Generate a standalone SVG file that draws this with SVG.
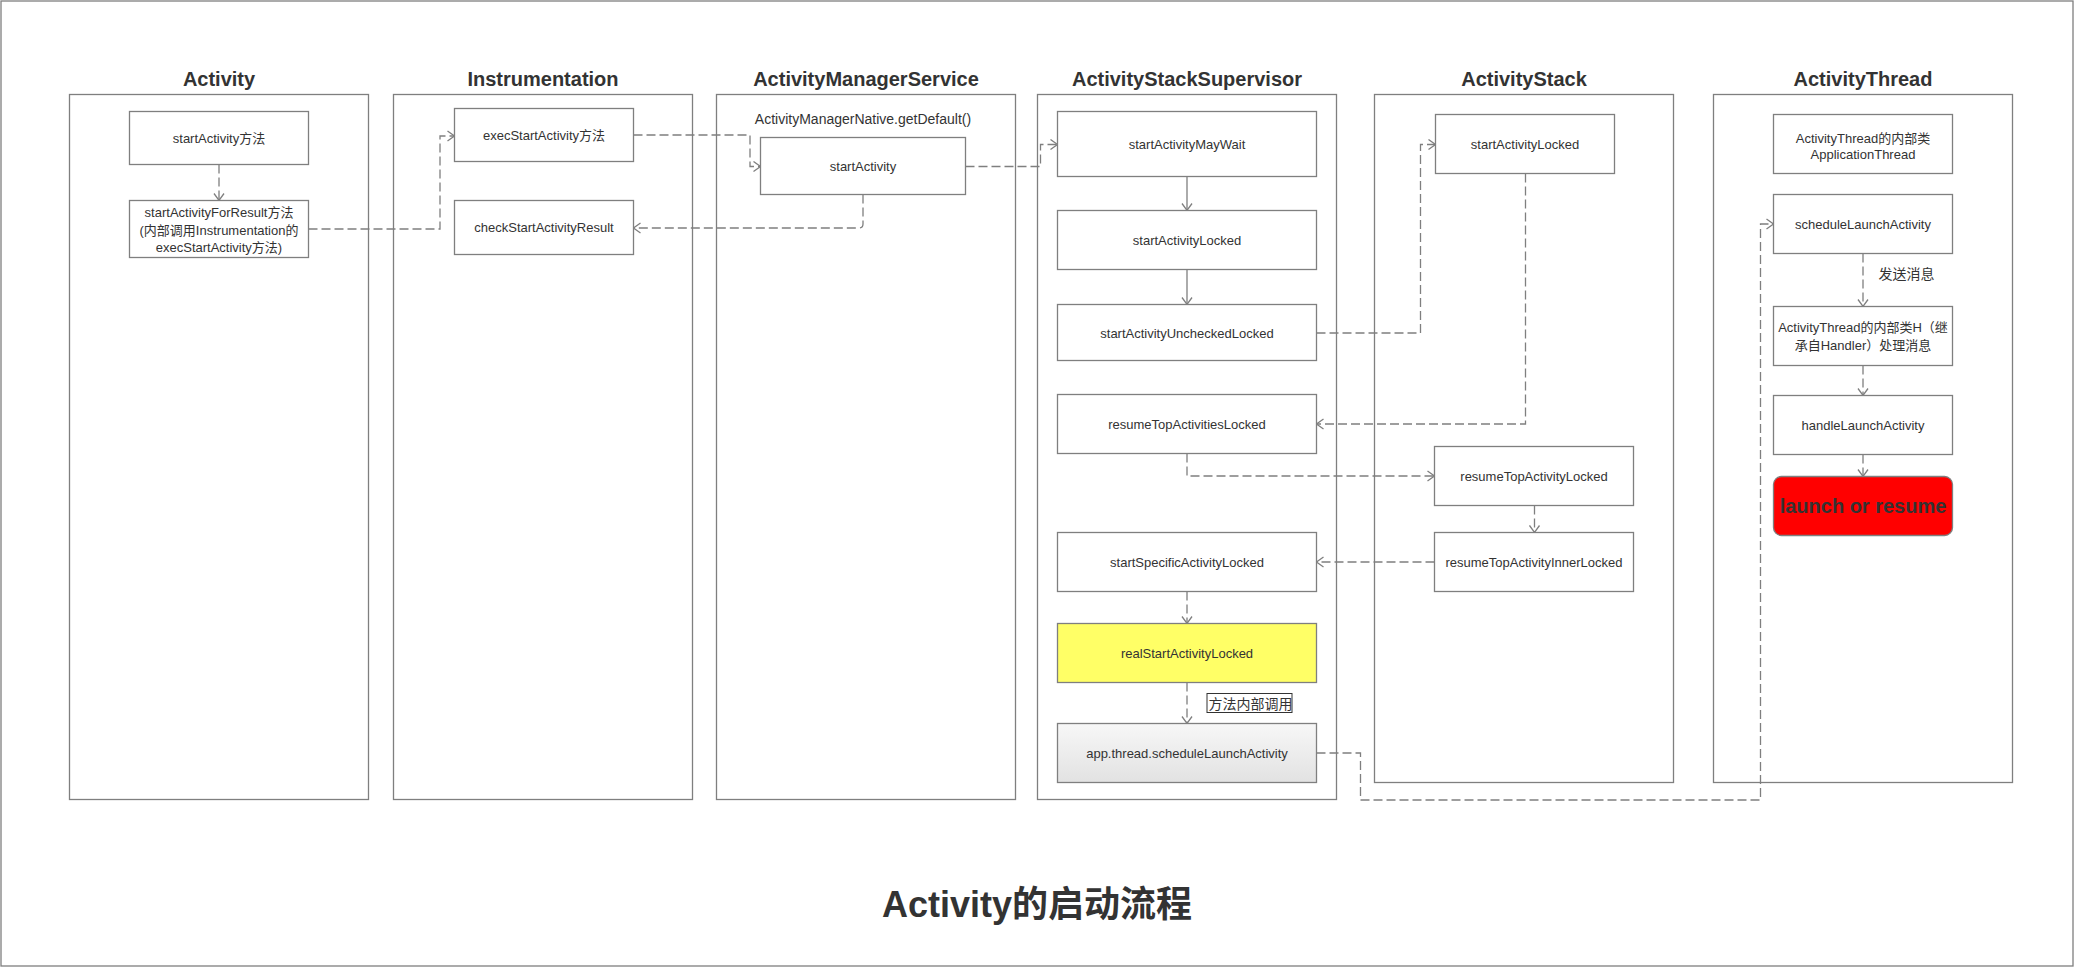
<svg xmlns="http://www.w3.org/2000/svg" width="2074" height="967" viewBox="0 0 2074 967">
<style>
text{font-family:"Liberation Sans","Noto Sans CJK SC",sans-serif;fill:#333}
.lane{fill:#fff;stroke:#7f7f7f;stroke-width:1.3}
.ttl{font-size:20px;font-weight:bold;text-anchor:middle}
.n{fill:#fff;stroke:#7f7f7f;stroke-width:1.3}
.t{font-size:13px;text-anchor:middle}
.c{fill:none;stroke:#7f7f7f;stroke-width:1.3;stroke-dasharray:9,4;marker-end:url(#ah)}
.s{fill:none;stroke:#7f7f7f;stroke-width:1.3;marker-end:url(#ah)}
</style>
<defs>
<marker id="ah" markerUnits="userSpaceOnUse" markerWidth="12" markerHeight="12" viewBox="-9 -6 10 12" refX="0" refY="0" orient="auto">
<path d="M-7,-5 L0,0 L-7,5" fill="none" stroke="#7f7f7f" stroke-width="1.3"/>
</marker>
<linearGradient id="gg" x1="0" y1="0" x2="0" y2="1">
<stop offset="0" stop-color="#f7f7f7"/>
<stop offset="1" stop-color="#e2e2e2"/>
</linearGradient>
</defs>
<rect x="0" y="0" width="2074" height="967" fill="#fff"/>
<rect x="1" y="1" width="2072" height="965" fill="none" stroke="#7f7f7f" stroke-width="1.3"/>
<g id="lanes">
<g id="lane-activity"><rect class="lane" x="69.5" y="94.5" width="299" height="705"/><text class="ttl" x="219" y="86">Activity</text></g>
<g id="lane-instrumentation"><rect class="lane" x="393.5" y="94.5" width="299" height="705"/><text class="ttl" x="543" y="86">Instrumentation</text></g>
<g id="lane-ams"><rect class="lane" x="716.5" y="94.5" width="299" height="705"/><text class="ttl" x="866" y="86">ActivityManagerService</text></g>
<g id="lane-ass"><rect class="lane" x="1037.5" y="94.5" width="299" height="705"/><text class="ttl" x="1187" y="86">ActivityStackSupervisor</text></g>
<g id="lane-as"><rect class="lane" x="1374.5" y="94.5" width="299" height="688"/><text class="ttl" x="1524" y="86">ActivityStack</text></g>
<g id="lane-at"><rect class="lane" x="1713.5" y="94.5" width="299" height="688"/><text class="ttl" x="1863" y="86">ActivityThread</text></g>
</g>
<g id="connectors">
<path class="c" d="M219,164.5 V200.5"/>
<path class="c" d="M308.5,229 H440 V136 H454.5"/>
<path class="c" d="M633.5,135 H750 V166.5 H760.5"/>
<path class="c" d="M863,194.5 V224 Q863,228 859,228 H633.5"/>
<path class="c" d="M965.5,166.5 H1040.5 V144.5 H1057.5"/>
<path class="s" d="M1187,176.5 V210.5"/>
<path class="s" d="M1187,269.5 V304.5"/>
<path class="c" d="M1316.5,333 H1420.5 V144.5 H1435.5"/>
<path class="c" d="M1525.5,173.5 V424 H1316.5"/>
<path class="c" d="M1187,453.5 V476 H1434.5"/>
<path class="c" d="M1534.5,505.5 V532.5"/>
<path class="c" d="M1434.5,562 H1316.5"/>
<path class="c" d="M1187,591.5 V623.5"/>
<path class="c" d="M1187,682.5 V723.5"/>
<path class="c" d="M1316.5,753 H1360.5 V800 H1760.5 V224 H1773.5"/>
<path class="c" d="M1863,253.5 V306.5"/>
<path class="c" d="M1863,365.5 V395.5"/>
<path class="c" d="M1863,454.5 V476.5"/>
<g id="label-call"><rect x="1207" y="693.5" width="85" height="19" fill="#fff" stroke="#333" stroke-width="1"/><text x="1208.5" y="708.5" style="font-size:14px">方法内部调用</text></g>
<text x="1878.5" y="279" style="font-size:14px">发送消息</text>
</g>
<g id="n-startActivity"><rect class="n" x="129.5" y="111.5" width="179" height="53"/><text class="t" x="219" y="142.5">startActivity方法</text></g>
<g id="n-startActivityForResult"><rect class="n" x="129.5" y="200.5" width="179" height="57"/><text class="t" x="219" y="216.8">startActivityForResult方法</text><text class="t" x="219" y="234.5">(内部调用Instrumentation的</text><text class="t" x="219" y="252.2">execStartActivity方法)</text></g>
<g id="n-execStartActivity"><rect class="n" x="454.5" y="108.5" width="179" height="53"/><text class="t" x="544" y="139.5">execStartActivity方法</text></g>
<g id="n-checkStartActivityResult"><rect class="n" x="454.5" y="200.5" width="179" height="54"/><text class="t" x="544" y="232">checkStartActivityResult</text></g>
<g id="n-ams-startActivity"><text x="863" y="123.5" style="font-size:14px;text-anchor:middle">ActivityManagerNative.getDefault()</text><rect class="n" x="760.5" y="137.5" width="205" height="57"/><text class="t" x="863" y="170.5">startActivity</text></g>
<g id="n-startActivityMayWait"><rect class="n" x="1057.5" y="111.5" width="259" height="65"/><text class="t" x="1187" y="148.5">startActivityMayWait</text></g>
<g id="n-ass-startActivityLocked"><rect class="n" x="1057.5" y="210.5" width="259" height="59"/><text class="t" x="1187" y="244.5">startActivityLocked</text></g>
<g id="n-startActivityUncheckedLocked"><rect class="n" x="1057.5" y="304.5" width="259" height="56"/><text class="t" x="1187" y="337.5">startActivityUncheckedLocked</text></g>
<g id="n-resumeTopActivitiesLocked"><rect class="n" x="1057.5" y="394.5" width="259" height="59"/><text class="t" x="1187" y="428.5">resumeTopActivitiesLocked</text></g>
<g id="n-startSpecificActivityLocked"><rect class="n" x="1057.5" y="532.5" width="259" height="59"/><text class="t" x="1187" y="566.5">startSpecificActivityLocked</text></g>
<g id="n-realStartActivityLocked"><rect x="1057.5" y="623.5" width="259" height="59" fill="#ffff66" stroke="#7f7f7f" stroke-width="1.3"/><text class="t" x="1187" y="657.5">realStartActivityLocked</text></g>
<g id="n-appThread"><rect x="1057.5" y="723.5" width="259" height="59" fill="url(#gg)" stroke="#7f7f7f" stroke-width="1.3"/><text class="t" x="1187" y="757.5">app.thread.scheduleLaunchActivity</text></g>
<g id="n-as-startActivityLocked"><rect class="n" x="1435.5" y="114.5" width="179" height="59"/><text class="t" x="1525" y="148.5">startActivityLocked</text></g>
<g id="n-resumeTopActivityLocked"><rect class="n" x="1434.5" y="446.5" width="199" height="59"/><text class="t" x="1534" y="480.5">resumeTopActivityLocked</text></g>
<g id="n-resumeTopActivityInnerLocked"><rect class="n" x="1434.5" y="532.5" width="199" height="59"/><text class="t" x="1534" y="566.5">resumeTopActivityInnerLocked</text></g>
<g id="n-applicationThread"><rect class="n" x="1773.5" y="114.5" width="179" height="59"/><text class="t" x="1863" y="142.5">ActivityThread的内部类</text><text class="t" x="1863" y="158.5">ApplicationThread</text></g>
<g id="n-scheduleLaunchActivity"><rect class="n" x="1773.5" y="194.5" width="179" height="59"/><text class="t" x="1863" y="228.5">scheduleLaunchActivity</text></g>
<g id="n-H"><rect class="n" x="1773.5" y="306.5" width="179" height="59"/><text class="t" x="1863" y="332">ActivityThread的内部类H（继</text><text class="t" x="1863" y="349.5">承自Handler）处理消息</text></g>
<g id="n-handleLaunchActivity"><rect class="n" x="1773.5" y="395.5" width="179" height="59"/><text class="t" x="1863" y="429.5">handleLaunchActivity</text></g>
<g id="n-launchOrResume"><rect x="1773.5" y="476.5" width="179" height="59" rx="8" fill="#ff0000" stroke="#7f7f7f" stroke-width="1.3"/><text x="1863" y="513" style="font-size:20px;font-weight:bold;text-anchor:middle">launch or resume</text></g>
<text id="title" x="1037" y="917" style="font-size:36px;font-weight:bold;text-anchor:middle">Activity的启动流程</text>
</svg>
